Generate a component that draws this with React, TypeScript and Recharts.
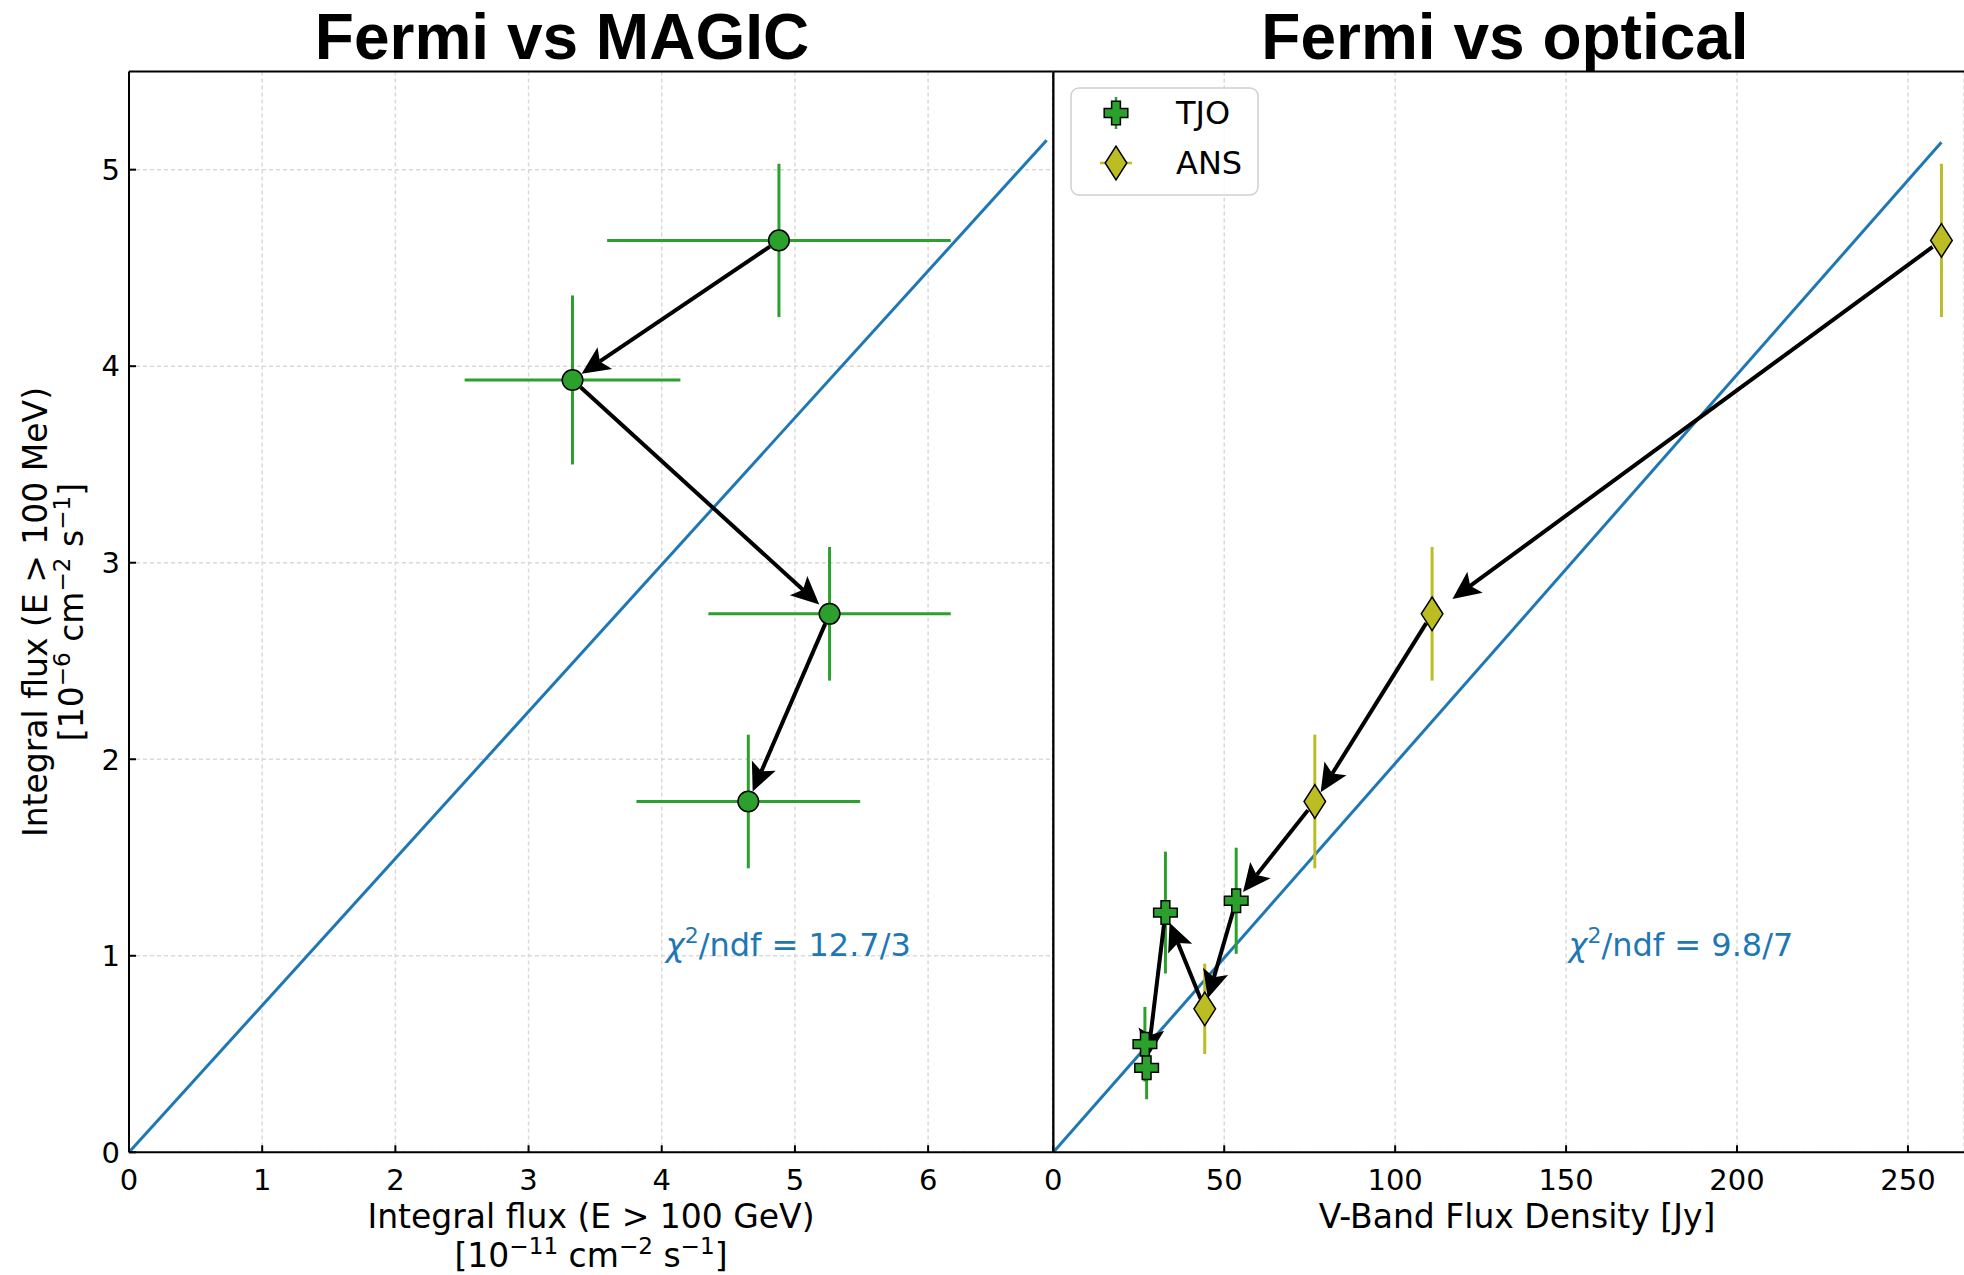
import React from 'react';
import {
  ScatterChart,
  Scatter,
  XAxis,
  YAxis,
  CartesianGrid,
  ErrorBar,
  ReferenceLine,
  ReferenceDot,
  Legend,
} from 'recharts';

// Fermi vs MAGIC (one point per night, in time order)
const magicFlux = [4.88, 3.33, 5.26, 4.65];
const magicFluxErr = [1.29, 0.81, 0.91, 0.84];
const fermiFlux = [4.64, 3.93, 2.74, 1.785];
const fermiFluxErr = [0.39, 0.43, 0.34, 0.34];

// Fermi vs optical
const tjoFlux = [26.8, 27.3, 32.8, 53.5];
const tjoFermi = [0.55, 0.43, 1.22, 1.28];
const tjoFermiErr = [0.19, 0.16, 0.31, 0.27];
const ansFlux = [44.3, 76.5, 110.8, 259.8];
const ansFermi = [0.73, 1.785, 2.74, 4.64];
const ansFermiErr = [0.23, 0.34, 0.34, 0.39];

// order in which the arrows walk through the optical points
const opticalOrder: [string, number][] = [
  ['ANS', 3],
  ['ANS', 2],
  ['ANS', 1],
  ['TJO', 3],
  ['ANS', 0],
  ['TJO', 2],
  ['TJO', 1],
];

const legendOrder = ['TJO', 'ANS'];

const magicTicks = [0, 1, 2, 3, 4, 5, 6];
const opticalTicks = [0, 50, 100, 150, 200, 250];
const fermiTicks = [0, 1, 2, 3, 4, 5];

// fit lines y = a*x, end points
const magicFitEnd = [6.89, 5.15];
const opticalFitEnd = [259.8, 5.14];
const chi2Labels = ['12.7/3', '9.8/7'];

const GREEN = '#2ca02c';
const OLIVE = '#bcbd22';
const BLUE = '#1f77b4';
const FONT = 'DejaVu Sans, Verdana, sans-serif';

const magicData = magicFlux.map((x, i) => ({ x, y: fermiFlux[i], xe: magicFluxErr[i], ye: fermiFluxErr[i] }));
const tjoData = tjoFlux.map((x, i) => ({ x, y: tjoFermi[i], ye: tjoFermiErr[i] }));
const ansData = ansFlux.map((x, i) => ({ x, y: ansFermi[i], ye: ansFermiErr[i] }));

const magicArrows = magicData.slice(1).map((d, i) => [magicData[i], d]);
const opticalPoints = opticalOrder.map(([s, i]) => (s === 'TJO' ? tjoData[i] : ansData[i]));
const opticalArrows = opticalPoints.slice(1).map((d, i) => [opticalPoints[i], d]);

const Circle = ({ cx, cy }: any) => (
  <circle cx={cx} cy={cy} r={10.3} fill={GREEN} stroke="#000" strokeWidth={1.5} />
);

const plusPoints = (cx: number, cy: number, s = 11.8, a = 4.4) =>
  [
    [-a, -s], [a, -s], [a, -a], [s, -a], [s, a], [a, a],
    [a, s], [-a, s], [-a, a], [-s, a], [-s, -a], [-a, -a],
  ].map(([dx, dy]) => `${cx + dx},${cy + dy}`).join(' ');

const Plus = ({ cx, cy }: any) => (
  <polygon points={plusPoints(cx, cy)} fill={GREEN} stroke="#000" strokeWidth={1.5} />
);

const diamondPoints = (cx: number, cy: number, w = 10.8, h = 16.8) =>
  `${cx},${cy - h} ${cx + w},${cy} ${cx},${cy + h} ${cx - w},${cy}`;

const Diamond = ({ cx, cy }: any) => (
  <polygon points={diamondPoints(cx, cy)} fill={OLIVE} stroke="#000" strokeWidth={1.5} />
);

// black arrow between two points, shortened at both ends like matplotlib's annotate
const Arrow = ({ x1, y1, x2, y2 }: any) => {
  const dx = x2 - x1;
  const dy = y2 - y1;
  const len = Math.hypot(dx, dy);
  if (!len) return <g />;
  const ux = dx / len;
  const uy = dy / len;
  const s0 = 11;
  const s1 = Math.max(11, 0.04 * len);
  const hl = 28;
  const hw = 13;
  const notch = 6;
  const tx = x2 - ux * s1;
  const ty = y2 - uy * s1;
  const bx = tx - ux * hl;
  const by = ty - uy * hl;
  const nx = tx - ux * (hl - notch);
  const ny = ty - uy * (hl - notch);
  const px = -uy;
  const py = ux;
  const head = `${tx},${ty} ${bx + px * hw},${by + py * hw} ${nx},${ny} ${bx - px * hw},${by - py * hw}`;
  return (
    <g>
      <line x1={x1 + ux * s0} y1={y1 + uy * s0} x2={nx} y2={ny} stroke="#000" strokeWidth={4} />
      <polygon points={head} fill="#000" />
    </g>
  );
};

const Chi2 = ({ cx, cy, value }: any) => (
  <text x={cx} y={cy} textAnchor="middle" fill={BLUE} fontFamily={FONT} fontSize={32}>
    <tspan fontStyle="italic">χ</tspan>
    <tspan fontSize={22} dy={-13}>2</tspan>
    <tspan dy={13}>/ndf = {value}</tspan>
  </text>
);

const tickStyle = { fontSize: 29, fill: '#000', fontFamily: FONT };
const axisStroke = { stroke: '#000', strokeWidth: 2 };

const LegendBox = ({ payload }: any) => {
  const items = legendOrder.filter((name) => (payload || []).some((p: any) => p.value === name));
  return (
    <svg width={190} height={110} style={{ display: 'block' }}>
      <rect x={1} y={1} width={187} height={107} rx={8} fill="rgba(255,255,255,0.85)" stroke="#d0d0d0" strokeWidth={1.5} />
      {items.map((name, i) => {
        const cy = 26 + i * 50;
        const isTjo = name === 'TJO';
        return (
          <g key={name}>
            {isTjo ? (
              <line x1={46} y1={cy - 16} x2={46} y2={cy + 16} stroke={GREEN} strokeWidth={2.5} />
            ) : (
              <line x1={30} y1={cy} x2={62} y2={cy} stroke={OLIVE} strokeWidth={2.5} />
            )}
            {isTjo ? <Plus cx={46} cy={cy} /> : <Diamond cx={46} cy={cy} />}
            <text x={106} y={cy + 11} fontFamily={FONT} fontSize={32} fill="#000">
              {name}
            </text>
          </g>
        );
      })}
    </svg>
  );
};

const Sup = ({ children }: any) => (
  <tspan fontSize="70%" baselineShift="super">
    {children}
  </tspan>
);

export default function App() {
  return (
    <div style={{ position: 'absolute', left: 0, top: 0, width: 1964, height: 1275, background: '#fff', overflow: 'hidden' }}>
      <div style={{ position: 'absolute', left: 0, top: 0 }}>
        <ScatterChart width={1060} height={1275} margin={{ top: 71.4, right: 6.7, bottom: 0, left: 0 }}>
          <CartesianGrid stroke="#d9d9d9" strokeDasharray="4 3" strokeWidth={1.5} />
          <XAxis
            type="number"
            dataKey="x"
            domain={[0, 6.94]}
            ticks={magicTicks}
            allowDataOverflow
            height={122.7}
            tick={tickStyle}
            tickSize={-7}
            tickMargin={24}
            tickLine={axisStroke}
            axisLine={axisStroke}
          />
          <YAxis
            type="number"
            dataKey="y"
            domain={[0, 5.5]}
            ticks={fermiTicks}
            allowDataOverflow
            width={129}
            tick={tickStyle}
            tickSize={-7}
            tickMargin={16}
            tickLine={axisStroke}
            axisLine={axisStroke}
          />
          <ReferenceLine y={5.5} stroke="#000" strokeWidth={2} />
          <ReferenceLine x={6.94} stroke="#000" strokeWidth={2} />
          <ReferenceLine
            segment={[{ x: 0, y: 0 }, { x: magicFitEnd[0], y: magicFitEnd[1] }]}
            stroke={BLUE}
            strokeWidth={3}
          />
          <Scatter name="MAGIC" data={magicData} shape={Circle} isAnimationActive={false}>
            <ErrorBar dataKey="xe" direction="x" width={0} stroke={GREEN} strokeWidth={3} isAnimationActive={false} />
            <ErrorBar dataKey="ye" direction="y" width={0} stroke={GREEN} strokeWidth={3} isAnimationActive={false} />
          </Scatter>
          {magicArrows.map(([a, b], i) => (
            <ReferenceLine key={i} segment={[{ x: a.x, y: a.y }, { x: b.x, y: b.y }]} shape={Arrow} />
          ))}
          <ReferenceDot x={4.95} y={1.0} r={0} shape={(p: any) => <Chi2 {...p} value={chi2Labels[0]} />} />
        </ScatterChart>
      </div>

      <div style={{ position: 'absolute', left: 1000, top: 0 }}>
        <ScatterChart width={964} height={1275} margin={{ top: 71.4, right: 0, bottom: 0, left: 0 }}>
          <CartesianGrid stroke="#d9d9d9" strokeDasharray="4 3" strokeWidth={1.5} />
          <XAxis
            type="number"
            dataKey="x"
            domain={[0, 266.4]}
            ticks={opticalTicks}
            allowDataOverflow
            height={122.7}
            tick={tickStyle}
            tickSize={-7}
            tickMargin={24}
            tickLine={axisStroke}
            axisLine={axisStroke}
          />
          <YAxis
            type="number"
            dataKey="y"
            domain={[0, 5.5]}
            ticks={fermiTicks}
            allowDataOverflow
            width={53.3}
            tick={false}
            tickSize={-7}
            tickLine={axisStroke}
            axisLine={axisStroke}
          />
          <ReferenceLine y={5.5} stroke="#000" strokeWidth={2} />
          <ReferenceLine
            segment={[{ x: 0, y: 0 }, { x: opticalFitEnd[0], y: opticalFitEnd[1] }]}
            stroke={BLUE}
            strokeWidth={3}
          />
          <Scatter name="TJO" data={tjoData} shape={Plus} isAnimationActive={false}>
            <ErrorBar dataKey="ye" direction="y" width={0} stroke={GREEN} strokeWidth={3} isAnimationActive={false} />
          </Scatter>
          <Scatter name="ANS" data={ansData} shape={Diamond} isAnimationActive={false}>
            <ErrorBar dataKey="ye" direction="y" width={0} stroke={OLIVE} strokeWidth={3} isAnimationActive={false} />
          </Scatter>
          {opticalArrows.map(([a, b], i) => (
            <ReferenceLine key={i} segment={[{ x: a.x, y: a.y }, { x: b.x, y: b.y }]} shape={Arrow} />
          ))}
          <ReferenceDot x={183.6} y={1.0} r={0} shape={(p: any) => <Chi2 {...p} value={chi2Labels[1]} />} />
          <Legend
            layout="vertical"
            align="center"
            verticalAlign="middle"
            content={LegendBox}
            wrapperStyle={{ left: 70, top: 87, width: 190, height: 110 }}
          />
        </ScatterChart>
      </div>

      <svg width={1964} height={1275} style={{ position: 'absolute', left: 0, top: 0, pointerEvents: 'none' }}>
        <g fontFamily="Liberation Sans, Arial, sans-serif" fontWeight="bold" fontSize={64} textAnchor="middle">
          <text x={562} y={59}>Fermi vs MAGIC</text>
          <text x={1505} y={59}>Fermi vs optical</text>
        </g>
        <g fontFamily={FONT} fontSize={33} textAnchor="middle" fill="#000">
          <text x={591} y={1228}>Integral flux (E &gt; 100 GeV)</text>
          <text x={591} y={1267}>
            [10<Sup>−11</Sup> cm<Sup>−2</Sup> s<Sup>−1</Sup>]
          </text>
          <text x={1517} y={1228}>V-Band Flux Density [Jy]</text>
          <text x={46.5} y={612} transform="rotate(-90 46.5 612)">
            Integral flux (E &gt; 100 MeV)
          </text>
          <text x={83} y={612} transform="rotate(-90 83 612)">
            [10<Sup>−6</Sup> cm<Sup>−2</Sup> s<Sup>−1</Sup>]
          </text>
        </g>
      </svg>
    </div>
  );
}
